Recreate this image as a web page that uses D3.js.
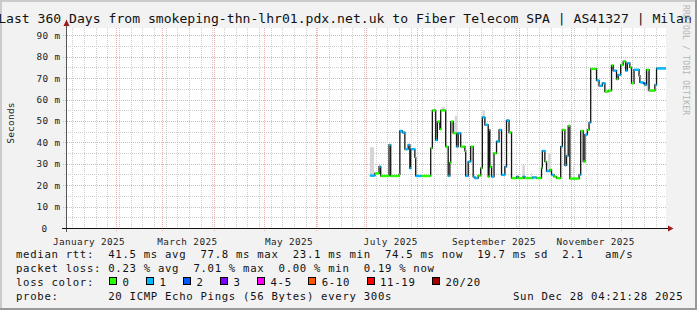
<!DOCTYPE html>
<html>
<head>
<meta charset="utf-8">
<script src="https://cdn.jsdelivr.net/npm/d3@7"></script>
<style>
html, body { margin:0; padding:0; background:#f2f2f2; }
svg { display:block; }
text { font-family:"DejaVu Sans Mono", monospace; }
</style>
</head>
<body>
<div id="chart"></div>
<script>

//**************************************************************************
//** Data
//**************************************************************************
var title = "Last 360 Days from smokeping-thn-lhr01.pdx.net.uk to Fiber Telecom SPA | AS41327 | Milan";
var graphStart = "2025-01-02 04:21:28";
var graphEnd = "2025-12-28 04:21:28";

//Start of each 12h step of the median rtt (value holds until the next step)
var stepStart = [
    "2025-07-03 12","2025-07-06 12","2025-07-09 00","2025-07-10 00","2025-07-15 00","2025-07-16 00","2025-07-21 00","2025-07-21 12","2025-07-23 00","2025-07-24 12",
    "2025-07-26 12","2025-07-27 12","2025-07-28 00","2025-07-30 12","2025-07-31 00","2025-08-03 12","2025-08-09 00","2025-08-10 00","2025-08-12 00","2025-08-13 00",
    "2025-08-14 12","2025-08-15 00","2025-08-18 00","2025-08-19 12","2025-08-20 12","2025-08-21 00","2025-08-22 12","2025-08-24 12","2025-08-25 12","2025-08-27 00",
    "2025-08-29 12","2025-08-30 00","2025-08-31 12","2025-09-02 00","2025-09-03 12","2025-09-04 12","2025-09-06 12","2025-09-08 00","2025-09-09 00","2025-09-10 12",
    "2025-09-12 12","2025-09-13 00","2025-09-13 12","2025-09-14 12","2025-09-16 00","2025-09-17 12","2025-09-19 00","2025-09-20 12","2025-09-22 12","2025-09-23 12",
    "2025-09-25 00","2025-09-26 12","2025-09-29 12","2025-09-30 12","2025-10-03 12","2025-10-04 12","2025-10-09 00","2025-10-11 12","2025-10-14 12","2025-10-15 00",
    "2025-10-16 12","2025-10-17 12","2025-10-19 12","2025-10-20 12","2025-10-22 00","2025-10-23 12","2025-10-26 00","2025-10-27 00","2025-10-28 12","2025-10-29 12",
    "2025-10-30 12","2025-10-31 12","2025-11-06 00","2025-11-07 00","2025-11-08 12","2025-11-09 12","2025-11-11 00","2025-11-12 00","2025-11-13 00","2025-11-16 12",
    "2025-11-18 00","2025-11-20 00","2025-11-21 12","2025-11-23 12","2025-11-25 12","2025-11-26 12","2025-11-28 12","2025-11-29 12","2025-12-01 00","2025-12-02 12",
    "2025-12-04 00","2025-12-05 00","2025-12-06 12","2025-12-07 12","2025-12-09 00","2025-12-12 00","2025-12-12 12","2025-12-14 12","2025-12-15 12","2025-12-16 12",
    "2025-12-18 00","2025-12-21 12","2025-12-22 12"
];

//Median rtt (ms)
var medianMs = [
    24.5,25.5,28.7,24.3,38.8,24.3,25.0,45.3,44.6,36.8,
    38.8,27.9,36.8,33.0,24.3,24.3,37.3,54.9,41.1,49.7,
    46.1,54.9,38.0,24.3,30.5,49.7,44.3,38.0,44.3,38.0,
    36.0,24.3,31.0,38.0,23.9,23.3,24.5,28.0,51.7,48.2,
    24.0,45.8,28.6,24.0,34.9,40.4,45.8,24.8,28.6,50.2,
    44.6,23.3,24.0,23.3,24.0,23.3,23.6,23.3,28.0,36.0,
    31.0,26.6,27.1,24.8,24.0,23.3,38.0,45.8,29.3,33.7,
    47.7,23.1,24.8,45.3,31.0,43.6,45.8,49.2,74.3,68.9,
    66.4,67.6,63.7,64.2,75.9,73.5,69.5,71.5,76.2,77.8,
    73.5,77.0,75.0,67.6,73.9,71.1,68.0,67.6,66.8,73.9,
    64.2,66.8,74.5
];

//Lost pings (out of 20) for each step
var lossCount = [
    1,0,1,0,1,0,0,1,1,1,
    1,1,1,0,1,0,0,0,1,0,
    0,0,0,1,0,0,0,1,1,0,
    0,1,1,0,1,1,0,0,1,1,
    0,1,0,1,0,1,1,1,1,1,
    0,0,1,0,1,0,1,0,0,1,
    0,1,0,1,0,0,1,0,1,1,
    0,0,1,0,0,1,0,1,0,1,
    1,1,0,0,0,1,0,1,0,0,
    1,1,0,0,1,1,1,2,1,0,
    0,1,1
];

//Visible smoke (rtt spread)
var smokeFrom = ["2025-07-03 12","2025-08-15 12","2025-08-21 00","2025-08-23 12","2025-09-09 00","2025-10-03 00","2025-10-08 00","2025-10-18 12","2025-11-02 12","2025-12-16 12"];
var smokeTo   = ["2025-07-06 00","2025-08-17 12","2025-08-23 12","2025-08-25 00","2025-09-10 12","2025-10-04 12","2025-10-08 12","2025-10-20 00","2025-11-03 00","2025-12-18 12"];
var smokeLow  = [24.3, 54.9, 44.3, 44.3, 51.7, 23.3, 23.3, 26.6, 23.3, 64.0];
var smokeHigh = [37.7, 56.5, 49.7, 52.5, 55.0, 29.3, 25.8, 34.9, 28.6, 73.0];

var yMax = 93.4;
var yMajorTicks = [0,10,20,30,40,50,60,70,80,90];
var yMinorTicks = [5,15,25,35,45,55,65,75,85];

var lossLabels = ["0","1","2","3","4-5","6-10","11-19","20/20"];
var lossColors = ["#26ff00","#00b8ff","#0059ff","#7e00ff","#ff00ff","#ff5500","#ff0000","#a10000"];
var lossUpper  = [0,1,2,3,5,10,19,20];

var rttStats  = [["41.5","avg"],["77.8","max"],["23.1","min"],["74.5","now"],["19.7","sd"]];
var amPerSec  = "2.1";
var lossStats = [["0.23","avg"],["7.01","max"],["0.00","min"],["0.19","now"]];
var probeText = "20 ICMP Echo Pings (56 Bytes) every 300s";
var stampText = "Sun Dec 28 04:21:28 2025";


//**************************************************************************
//** Layout
//**************************************************************************
var width = 697, height = 310;
var plot = {left:66, right:666, top:28, bottom:228};
var charW = 7.1, legendX = 16;

var parseStep = d3.utcParse("%Y-%m-%d %H");
var parseFull = d3.utcParse("%Y-%m-%d %H:%M:%S");
var t0 = parseFull(graphStart), t1 = parseFull(graphEnd);

var x = d3.scaleUtc().domain([t0, t1]).range([plot.left, plot.right]);
var y = d3.scaleLinear().domain([0, yMax]).range([plot.bottom, plot.top]);
var px = function(v){ return Math.round(v) + 0.5; };

var svg = d3.select("#chart").append("svg")
    .attr("width", width).attr("height", height);

//Background + 3D frame
svg.append("rect").attr("width", width).attr("height", height).attr("fill", "#f2f2f2");
svg.append("rect").attr("x",0).attr("y",0).attr("width",width).attr("height",2).attr("fill","#cbcbcb");
svg.append("rect").attr("x",0).attr("y",0).attr("width",2).attr("height",height).attr("fill","#cbcbcb");
svg.append("rect").attr("x",width-2).attr("y",0).attr("width",2).attr("height",height).attr("fill","#999999");
svg.append("rect").attr("x",0).attr("y",height-2).attr("width",width).attr("height",2).attr("fill","#999999");

//Canvas
svg.append("rect")
    .attr("x", plot.left).attr("y", plot.top)
    .attr("width", plot.right - plot.left).attr("height", plot.bottom - plot.top)
    .attr("fill", "#ffffff");


//**************************************************************************
//** Grid
//**************************************************************************
var grid = svg.append("g").attr("shape-rendering", "crispEdges").attr("stroke-dasharray", "1,1");

//Minor (weekly / 5 ms)
grid.selectAll(".vmin").data(d3.utcMonday.range(t0, t1)).enter().append("line")
    .attr("x1", d => px(x(d))).attr("x2", d => px(x(d)))
    .attr("y1", plot.top).attr("y2", plot.bottom + 2)
    .attr("stroke", "#cfcfcf");

grid.selectAll(".hmin").data(yMinorTicks).enter().append("line")
    .attr("x1", plot.left - 2).attr("x2", plot.right)
    .attr("y1", d => px(y(d))).attr("y2", d => px(y(d)))
    .attr("stroke", "#cfcfcf");

//Major (monthly / 10 ms)
grid.selectAll(".vmaj").data(d3.utcMonth.range(t0, t1)).enter().append("line")
    .attr("x1", d => px(x(d))).attr("x2", d => px(x(d)))
    .attr("y1", plot.top).attr("y2", plot.bottom + 3)
    .attr("stroke", "#f3abab");

grid.selectAll(".hmaj").data(yMajorTicks.filter(d => d > 0)).enter().append("line")
    .attr("x1", plot.left - 3).attr("x2", plot.right)
    .attr("y1", d => px(y(d))).attr("y2", d => px(y(d)))
    .attr("stroke", "#f3abab");


//**************************************************************************
//** Smoke + median
//**************************************************************************
var smoke = smokeFrom.map(function(s, i){
    return {from: parseStep(s), to: parseStep(smokeTo[i]), lo: smokeLow[i], hi: smokeHigh[i]};
});
svg.append("g").selectAll("rect").data(smoke).enter().append("rect")
    .attr("x", d => x(d.from))
    .attr("width", d => Math.max(1, x(d.to) - x(d.from)))
    .attr("y", d => y(d.hi))
    .attr("height", d => y(d.lo) - y(d.hi))
    .attr("fill", "#d6d6d6");

var steps = stepStart.map(function(s, i){
    return {
        t: parseStep(s),
        end: i < stepStart.length - 1 ? parseStep(stepStart[i+1]) : t1,
        v: medianMs[i],
        loss: lossCount[i]
    };
});

var linePts = steps.map(d => [d.t, d.v]);
linePts.push([t1, medianMs[medianMs.length-1]]);

svg.append("path")
    .datum(linePts)
    .attr("fill", "none")
    .attr("stroke", "#141414")
    .attr("stroke-width", 1.3)
    .attr("d", d3.line().x(d => x(d[0])).y(d => y(d[1])).curve(d3.curveStepAfter));

var lossColor = function(n){
    for (var i=0; i<lossUpper.length; i++){
        if (n <= lossUpper[i]) return lossColors[i];
    }
    return lossColors[lossColors.length-1];
};

svg.append("g").selectAll("rect").data(steps).enter().append("rect")
    .attr("x", d => x(d.t))
    .attr("width", d => Math.max(1, x(d.end) - x(d.t)))
    .attr("y", d => y(d.v) - 1.2)
    .attr("height", 2.4)
    .attr("fill", d => lossColor(d.loss));


//**************************************************************************
//** Axes
//**************************************************************************
svg.append("line")
    .attr("x1", plot.left + 0.5).attr("x2", plot.left + 0.5)
    .attr("y1", plot.bottom + 4).attr("y2", plot.top - 3)
    .attr("stroke", "#555").attr("shape-rendering", "crispEdges");
svg.append("line")
    .attr("x1", plot.left - 4).attr("x2", plot.right + 2)
    .attr("y1", plot.bottom + 0.5).attr("y2", plot.bottom + 0.5)
    .attr("stroke", "#111").attr("shape-rendering", "crispEdges");

svg.append("path")
    .attr("d", "M" + (plot.left-2.5) + "," + (plot.top-2) + "L" + (plot.left+0.5) + "," + (plot.top-8.5) + "L" + (plot.left+3.5) + "," + (plot.top-2) + "Z")
    .attr("fill", "#9a1b1b");
svg.append("path")
    .attr("d", "M" + (plot.right+2) + "," + (plot.bottom-2.5) + "L" + (plot.right+7.5) + "," + (plot.bottom+0.5) + "L" + (plot.right+2) + "," + (plot.bottom+3.5) + "Z")
    .attr("fill", "#9a1b1b");

//Y labels
svg.append("g").selectAll("text").data(yMajorTicks).enter().append("text")
    .attr("x", d => d === 0 ? 47.5 : 60.5)
    .attr("y", d => y(d) + 3.5)
    .attr("text-anchor", "end")
    .style("font-size", "9.33px")
    .style("letter-spacing", "0.4px")
    .attr("fill", "#222")
    .text(d => d === 0 ? "0" : d + " m");

//X labels (centred on mid-month)
var labelMonths = d3.utcMonth.every(2).range(d3.utcYear.floor(t0), t1);
var fmtMonth = d3.utcFormat("%B %Y");
svg.append("g").selectAll("text").data(labelMonths).enter().append("text")
    .attr("x", d => x(d3.utcDay.offset(d, 15)))
    .attr("y", 244.5)
    .attr("text-anchor", "middle")
    .style("font-size", "9.33px")
    .style("letter-spacing", "0.4px")
    .attr("fill", "#222")
    .text(d => fmtMonth(d));

svg.append("text")
    .attr("transform", "translate(14," + ((plot.top + plot.bottom)/2 - 5) + ") rotate(-90)")
    .attr("text-anchor", "middle")
    .style("font-size", "9.5px")
    .style("letter-spacing", "0.2px")
    .attr("fill", "#222")
    .text("Seconds");


//**************************************************************************
//** Title + watermark
//**************************************************************************
//title is wider than the graph, so it runs off the left edge as in the original
svg.append("text")
    .attr("x", 345).attr("y", 23)
    .attr("text-anchor", "middle")
    .style("font-size", "13.1px")
    .attr("fill", "#111")
    .text(title);

svg.append("text")
    .attr("transform", "translate(683,5) rotate(90)")
    .style("font-size", "8px")
    .style("letter-spacing", "0.2px")
    .attr("fill", "#b4b4b4")
    .text("RRDTOOL / TOBI OETIKER");


//**************************************************************************
//** Legend
//**************************************************************************
var legend = svg.append("g")
    .style("font-size", "10.67px")
    .style("letter-spacing", "0.68px")
    .attr("fill", "#111");

var addRow = function(str, yPos, col){
    legend.append("text")
        .attr("x", legendX + (col || 0) * charW)
        .attr("y", yPos)
        .attr("xml:space", "preserve")
        .style("white-space", "pre")
        .text(str);
};

addRow("median rtt:  " + rttStats.map(d => d[0] + " ms " + d[1]).join("  ") + "  " + amPerSec + "   am/s", 258);
addRow("packet loss: " + lossStats.map(d => d[0] + " % " + d[1]).join("  "), 271.5);
addRow("loss color:", 285.5);
addRow("probe:       " + probeText, 299.5);
addRow(stampText, 299.5, 70);

var boxX = 109;
lossLabels.forEach(function(lbl, i){
    legend.append("rect")
        .attr("x", boxX + 0.5).attr("y", 277.5)
        .attr("width", 7).attr("height", 7)
        .attr("fill", lossColors[i])
        .attr("stroke", "#000").attr("stroke-width", 1)
        .attr("shape-rendering", "crispEdges");
    legend.append("text")
        .attr("x", boxX + 13.5).attr("y", 285.5)
        .text(lbl);
    boxX = boxX + 13.5 + lbl.length * charW + 16.4;
});

</script>
</body>
</html>
